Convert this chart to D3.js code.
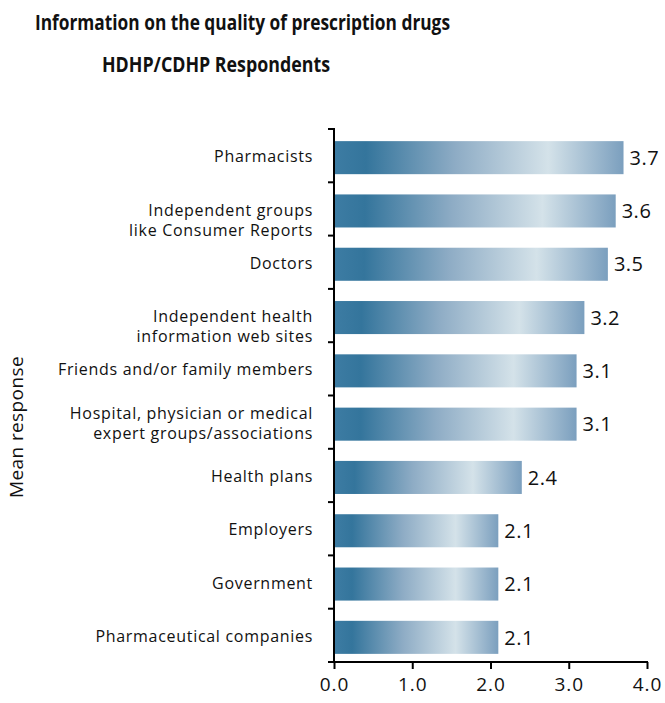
<!DOCTYPE html>
<html>
<head>
<meta charset="utf-8">
<script src="https://cdn.jsdelivr.net/npm/d3@7"></script>
<style>
  html, body { margin: 0; padding: 0; background: #fff; }
  svg { display: block; }
  text { font-family: "Open Sans", "Noto Sans", sans-serif; fill: #111; }
</style>
</head>
<body>
<div id="chart"></div>
<script>
const categories = [
  "Pharmacists",
  "Independent groups\nlike Consumer Reports",
  "Doctors",
  "Independent health\ninformation web sites",
  "Friends and/or family members",
  "Hospital, physician or medical\nexpert groups/associations",
  "Health plans",
  "Employers",
  "Government",
  "Pharmaceutical companies"
];
const values = [3.7, 3.6, 3.5, 3.2, 3.1, 3.1, 2.4, 2.1, 2.1, 2.1];
const valueLabels = ["3.7", "3.6", "3.5", "3.2", "3.1", "3.1", "2.4", "2.1", "2.1", "2.1"];
const xTicks = [0, 1, 2, 3, 4];
const xTickLabels = ["0.0", "1.0", "2.0", "3.0", "4.0"];
const titleLines = ["Information on the quality of prescription drugs", "HDHP/CDHP Respondents"];
const yAxisTitle = "Mean response";

const W = 665, H = 703;
const svg = d3.select("#chart").append("svg").attr("width", W).attr("height", H);

const defs = svg.append("defs");
const grad = defs.append("linearGradient").attr("id", "barGrad")
  .attr("x1", "0").attr("y1", "0").attr("x2", "1").attr("y2", "0");
[[0, "#3d7ca3"], [0.11, "#34759c"], [0.42, "#8eacc5"], [0.74, "#d4e2e9"], [1, "#7b9fbe"]]
  .forEach(([o, c]) => grad.append("stop").attr("offset", o).attr("stop-color", c));

const x = d3.scaleLinear().domain([0, 4]).range([334, 647]);
const y = d3.scaleBand().domain(categories).range([129, 662]).paddingInner(0.38).paddingOuter(0.19);

// bars
svg.append("g").selectAll("rect").data(categories).join("rect")
  .attr("x", x(0))
  .attr("y", d => y(d) + 2)
  .attr("width", (d, i) => x(values[i]) - x(0))
  .attr("height", y.bandwidth())
  .attr("fill", "url(#barGrad)");

// value labels
svg.append("g").selectAll("text").data(categories).join("text")
  .attr("x", (d, i) => x(values[i]) + 6)
  .attr("y", d => y(d) + 2 + y.bandwidth() / 2)
  .attr("dy", "0.36em")
  .attr("font-size", 20)
  .attr("letter-spacing", 0.5)
  .text((d, i) => valueLabels[i]);

// y axis line with ticks between bands
const yAxisG = svg.append("g");
yAxisG.append("line").attr("x1", x(0)).attr("x2", x(0)).attr("y1", 128).attr("y2", 662)
  .attr("stroke", "#000").attr("stroke-width", 2);
const boundaries = d3.range(categories.length + 1).map(i => 129 + i * (533 / categories.length));
yAxisG.selectAll("line.tk").data(boundaries).join("line").attr("class", "tk")
  .attr("x1", x(0) - 6).attr("x2", x(0)).attr("y1", d => d).attr("y2", d => d)
  .attr("stroke", "#000").attr("stroke-width", 2);

// category labels (two-line labels in bands 1 and 3 sit lower in the original)
const catG = svg.append("g");
categories.forEach((c, i) => {
  const lines = c.split("\n");
  const shift = (i === 1 || i === 3) ? 10 : 0;
  const cy = y(c) + 1 + y.bandwidth() / 2 + shift;
  const t = catG.append("text").attr("x", 313).attr("text-anchor", "end")
    .attr("font-size", 16).attr("letter-spacing", 0.7);
  lines.forEach((ln, j) => {
    t.append("tspan").attr("x", 313)
      .attr("y", cy + (j - (lines.length - 1) / 2) * 20)
      .attr("dy", "0.35em").text(ln);
  });
});

// x axis
const xAxis = d3.axisBottom(x).tickValues(xTicks).tickFormat((d, i) => xTickLabels[i])
  .tickSize(7).tickSizeOuter(0);
const xg = svg.append("g").attr("transform", "translate(0,662)").call(xAxis);
xg.select(".domain").attr("stroke", "#000").attr("stroke-width", 2).attr("d", `M${x(0) - 1},0H${x(4) + 1}`);
xg.selectAll(".tick line").attr("stroke", "#000").attr("stroke-width", 2);
xg.selectAll(".tick text").attr("font-size", 19).attr("y", 16).attr("dy", "0.71em")
  .attr("letter-spacing", 1)
  .attr("font-family", "'Open Sans', sans-serif").attr("fill", "#111");

// y axis title
svg.append("text").attr("transform", "translate(23,427) rotate(-90)")
  .attr("text-anchor", "middle").attr("font-size", 19).attr("letter-spacing", 0.4).text(yAxisTitle);

// titles
svg.append("text").attr("x", 35).attr("y", 30).attr("font-size", 21).attr("font-weight", "bold")
  .attr("textLength", 415).attr("lengthAdjust", "spacingAndGlyphs").text(titleLines[0]);
svg.append("text").attr("x", 102).attr("y", 72).attr("font-size", 21).attr("font-weight", "bold")
  .attr("textLength", 228).attr("lengthAdjust", "spacingAndGlyphs").text(titleLines[1]);
</script>
</body>
</html>
